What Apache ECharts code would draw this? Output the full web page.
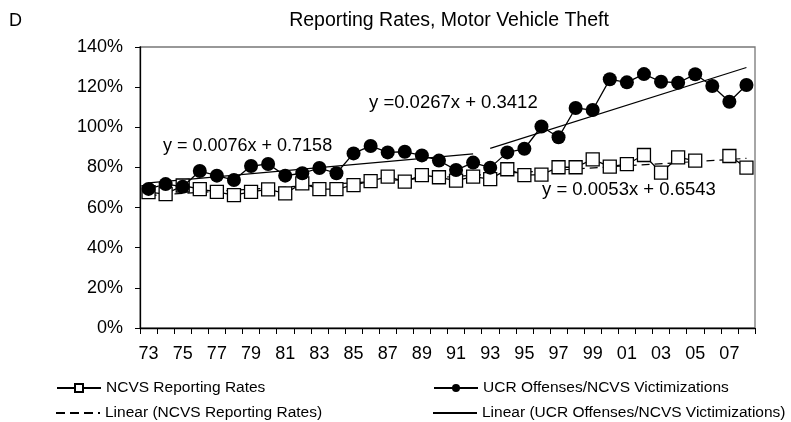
<!DOCTYPE html>
<html>
<head>
<meta charset="utf-8">
<title>Reporting Rates, Motor Vehicle Theft</title>
<script src="https://cdn.jsdelivr.net/npm/echarts@6/dist/echarts.min.js"></script>
<style>
  html, body { margin: 0; padding: 0; background: #fff; }
  #chart { width: 791px; height: 422px; }
</style>
</head>
<body>
<div id="chart"></div>
<script>
  // years 1973 - 2008, shown as two digits
  const years = ['73', '74', '75', '76', '77', '78', '79', '80', '81', '82', '83', '84',
    '85', '86', '87', '88', '89', '90', '91', '92', '93', '94', '95', '96',
    '97', '98', '99', '00', '01', '02', '03', '04', '05', '06', '07', '08'];

  // NCVS reporting rates (%), 2006 not reported
  const ncvsRates = [67.7, 66.7, 71.0, 69.2, 67.8, 66.2, 67.8, 69.1, 67.1, 72.1, 69.2, 69.2,
    71.2, 73.2, 75.4, 72.9, 76.2, 75.1, 73.4, 75.4, 74.2, 79.1, 76.2, 76.4,
    80.1, 80.1, 84.0, 80.4, 81.6, 86.2, 77.4, 85.0, 83.4, null, 85.7, 79.9];

  // UCR offenses / NCVS victimizations (%)
  const ucrRatio = [69.3, 71.7, 70.4, 78.2, 75.9, 73.7, 80.7, 81.7, 75.9, 77.1, 79.7, 77.1,
    87.0, 90.7, 87.5, 87.8, 86.0, 83.4, 78.7, 82.4, 79.9, 87.5, 89.3, 100.4,
    95.0, 109.6, 108.6, 123.9, 122.4, 126.5, 122.7, 122.2, 126.4, 120.6, 112.7, 121.1];

  // trend line end points [first year, last year, value at first, value at last]
  const ncvsTrendEnds = ['73', '08', 66.0, 84.5];
  const ucrTrendEnds1 = ['73', '92', 72.3, 86.8];
  const ucrTrendEnds2 = ['93', '08', 89.5, 129.8];

  const yTicks = [0, 20, 40, 60, 80, 100, 120, 140];

  const ncvsEq = 'y = 0.0053x + 0.6543';
  const ucrEq1 = 'y = 0.0076x + 0.7158';
  const ucrEq2 = 'y =0.0267x + 0.3412';

  const nameNcvs = 'NCVS Reporting Rates';
  const nameUcr = 'UCR Offenses/NCVS Victimizations';
  const nameNcvsLin = 'Linear (NCVS Reporting Rates)';
  const nameUcrLin = 'Linear (UCR Offenses/NCVS Victimizations)';

  const FONT = '"Liberation Sans", Arial, sans-serif';

  // legend icons for the plain trend lines (no marker)
  const dashIcon = 'path://M0,0H9V2H0Z M14,0H23V2H14Z M28,0H37V2H28Z M42,0H44V2H42Z';
  const solidIcon = 'path://M0,0H44V2H0Z';

  // a line with only its two end points set, the rest left empty
  function trendData(ends) {
    let arr = years.map(() => null);
    arr[years.indexOf(ends[0])] = ends[2];
    arr[years.indexOf(ends[1])] = ends[3];
    return arr;
  }

  function legendAt(item, left, top, h) {
    return {
      data: [item],
      left: left,
      top: top,
      padding: 0,
      itemWidth: 44,
      itemHeight: h,
      itemGap: 0,
      selectedMode: false,
      textStyle: {color: '#000', fontSize: 15.5, fontFamily: FONT}
    };
  }

  const chart = echarts.init(document.getElementById('chart'));
  chart.setOption({
    animation: false,
    backgroundColor: '#fff',
    title: {
      text: 'Reporting Rates, Motor Vehicle Theft',
      left: 444,
      top: 6,
      textAlign: 'center',
      textStyle: {color: '#000', fontSize: 19.5, fontWeight: 'normal', fontFamily: FONT}
    },
    legend: [
      legendAt(nameNcvs, 56, 380, 10),
      legendAt(nameUcr, 433, 380, 10),
      legendAt({name: nameNcvsLin, icon: dashIcon}, 56, 405, 2),
      legendAt({name: nameUcrLin, icon: solidIcon}, 433, 405, 2)
    ],
    graphic: [
      {type: 'text', left: 9, top: 12, style: {text: 'D', fontSize: 18, fontFamily: FONT, fill: '#000'}},
      {type: 'text', left: 163, top: 137, style: {text: ucrEq1, fontSize: 18, fontFamily: FONT, fill: '#000'}},
      {type: 'text', left: 369, top: 93, style: {text: ucrEq2, fontSize: 18.5, fontFamily: FONT, fill: '#000'}},
      {type: 'text', left: 542, top: 180, style: {text: ncvsEq, fontSize: 18.5, fontFamily: FONT, fill: '#000'}}
    ],
    grid: {
      left: 140,
      right: 36,
      top: 47,
      bottom: 94,
      show: true,
      borderColor: '#777',
      borderWidth: 1.3
    },
    xAxis: {
      type: 'category',
      data: years,
      boundaryGap: true,
      axisLine: {lineStyle: {color: '#000', width: 1.3}},
      axisTick: {show: true, interval: 0, length: 6, lineStyle: {color: '#000'}},
      axisLabel: {interval: 1, color: '#000', fontSize: 18, fontFamily: FONT, margin: 17},
      splitLine: {show: false}
    },
    yAxis: {
      type: 'value',
      min: yTicks[0],
      max: yTicks[yTicks.length - 1],
      interval: 20,
      axisLine: {show: true, lineStyle: {color: '#000', width: 1.3}},
      axisTick: {show: true, length: 5, lineStyle: {color: '#000'}},
      axisLabel: {formatter: '{value}%', color: '#000', fontSize: 18, fontFamily: FONT, margin: 17},
      splitLine: {show: false}
    },
    series: [
      {
        name: nameNcvsLin,
        type: 'line',
        data: trendData(ncvsTrendEnds),
        connectNulls: true,
        symbol: 'none',
        z: 1,
        lineStyle: {color: '#000', width: 1.2, type: [8, 5]},
        itemStyle: {color: '#000'}
      },
      {
        name: nameUcrLin,
        type: 'line',
        data: trendData(ucrTrendEnds1),
        connectNulls: true,
        symbol: 'none',
        z: 1,
        lineStyle: {color: '#000', width: 1.2},
        itemStyle: {color: '#000'}
      },
      {
        name: nameUcrLin,
        type: 'line',
        data: trendData(ucrTrendEnds2),
        connectNulls: true,
        symbol: 'none',
        z: 1,
        lineStyle: {color: '#000', width: 1.2},
        itemStyle: {color: '#000'}
      },
      {
        name: nameNcvs,
        type: 'line',
        data: ncvsRates,
        connectNulls: false,
        showAllSymbol: true,
        symbol: 'rect',
        symbolSize: 13,
        z: 3,
        lineStyle: {color: '#000', width: 1.3},
        itemStyle: {color: '#fff', borderColor: '#000', borderWidth: 1.3}
      },
      {
        name: nameUcr,
        type: 'line',
        data: ucrRatio,
        showAllSymbol: true,
        symbol: 'circle',
        symbolSize: 14,
        z: 4,
        lineStyle: {color: '#000', width: 1.3},
        itemStyle: {color: '#000'}
      }
    ]
  });
</script>
</body>
</html>
